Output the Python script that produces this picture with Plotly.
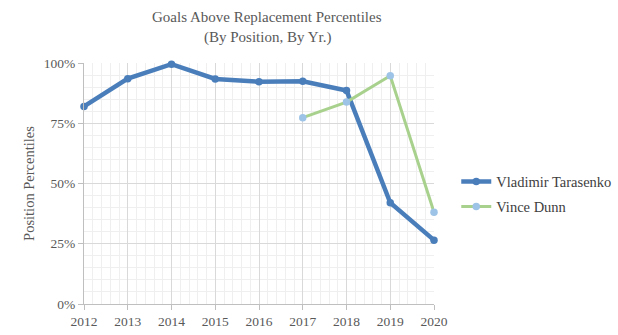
import plotly.graph_objects as go

years = [2012, 2013, 2014, 2015, 2016, 2017, 2018, 2019, 2020]
tarasenko = [0.82, 0.935, 0.995, 0.934, 0.922, 0.924, 0.886, 0.42, 0.265]
dunn_years = [2017, 2018, 2019, 2020]
dunn = [0.773, 0.838, 0.947, 0.381]
ytick_vals = [0, 0.25, 0.5, 0.75, 1.0]
ytick_text = ["0%", "25%", "50%", "75%", "100%"]
title_lines = ["Goals Above Replacement Percentiles", "(By Position, By Yr.)"]

FONT = "Liberation Serif"
GRAY = "#595959"

fig = go.Figure()
fig.add_trace(go.Scatter(
    x=years, y=tarasenko, mode="lines+markers", name="Vladimir Tarasenko",
    line=dict(color="#4a7ebb", width=4.5),
    marker=dict(color="#4a7ebb", size=7.5),
    legendgroup="a", cliponaxis=False,
))
fig.add_trace(go.Scatter(
    x=dunn_years, y=dunn, mode="lines+markers", name="Vince Dunn",
    line=dict(color="#a9d18e", width=3),
    marker=dict(color="#9dc3e6", size=7.5),
    legendgroup="b", cliponaxis=False,
))

for i, (t, yy) in enumerate(zip(title_lines, [17, 38])):
    fig.add_annotation(
        text=t, xref="paper", yref="paper",
        x=(267 - 84) / 350, y=1 + (63 - yy) / 241,
        xanchor="center", yanchor="middle", showarrow=False,
        font=dict(family=FONT, size=15, color=GRAY),
    )

fig.update_layout(
    width=618, height=335,
    margin=dict(l=84, r=184, t=63, b=31, autoexpand=False),
    paper_bgcolor="white", plot_bgcolor="white",
    font=dict(family=FONT, color=GRAY, size=13),
    showlegend=True,
    legend=dict(
        x=1.0636, xanchor="left", y=0.456, yanchor="middle",
        font=dict(family=FONT, size=14.5, color="#404040"),
        tracegroupgap=3, bgcolor="rgba(0,0,0,0)",
    ),
    xaxis=dict(
        range=[2012, 2020], tickmode="array", tickvals=years,
        ticktext=[str(y) for y in years],
        showgrid=True, gridcolor="#d9d9d9", gridwidth=1,
        minor=dict(dtick=0.2, showgrid=True, gridcolor="#efefef", gridwidth=1),
        showline=True, linecolor="#bfbfbf", linewidth=1,
        ticks="outside", ticklen=5, tickcolor="#bfbfbf",
        tickfont=dict(family=FONT, size=13.5, color=GRAY),
        zeroline=False, fixedrange=True,
    ),
    yaxis=dict(
        range=[0, 1], tickmode="array", tickvals=ytick_vals, ticktext=ytick_text,
        showgrid=True, gridcolor="#d9d9d9", gridwidth=1,
        minor=dict(dtick=0.05, showgrid=True, gridcolor="#efefef", gridwidth=1),
        showline=True, linecolor="#bfbfbf", linewidth=1,
        ticks="outside", ticklen=5, tickcolor="#bfbfbf",
        tickfont=dict(family=FONT, size=13.5, color=GRAY),
        title=dict(text="Position Percentiles", font=dict(family=FONT, size=14.5, color=GRAY), standoff=5),
        zeroline=False, fixedrange=True,
    ),
)

fig.write_html("out.html")
